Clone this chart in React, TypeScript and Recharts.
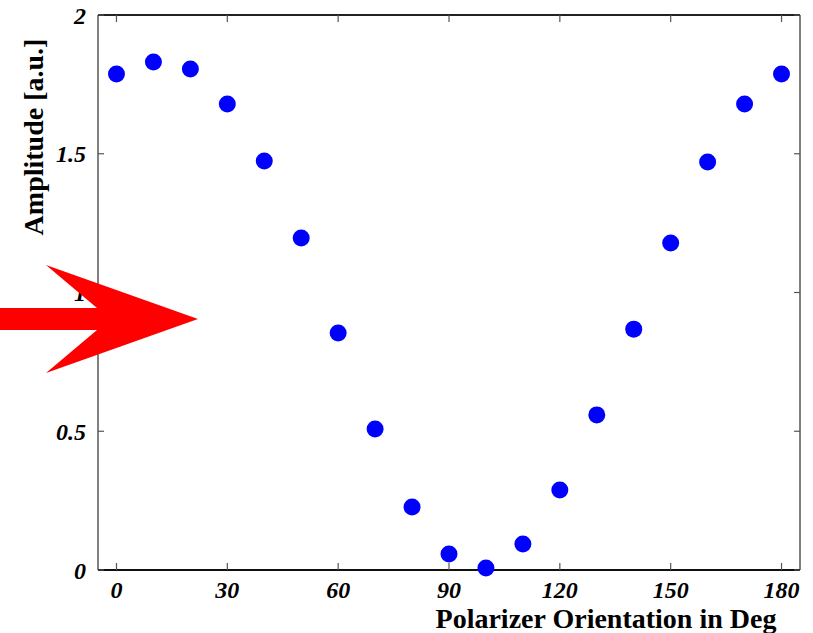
import React from "react";
import { ScatterChart, Scatter, XAxis, YAxis, Label } from "recharts";

const angles = [0, 10, 20, 30, 40, 50, 60, 70, 80, 90, 100, 110, 120, 130, 140, 150, 160, 170, 180];
const amplitudes = [
  1.787, 1.831, 1.805, 1.679, 1.474, 1.196, 0.854, 0.508, 0.227, 0.058, 0.007, 0.094, 0.288, 0.559, 0.868,
  1.178, 1.47, 1.679, 1.787,
];
const xTicks = [0, 30, 60, 90, 120, 150, 180];
const yTicks = [0, 0.5, 1, 1.5, 2];

const points = angles.map((a, i) => ({ angle: a, amp: amplitudes[i] }));

const serif = "'Liberation Serif', 'Times New Roman', serif";

const tickFont = {
  fontFamily: serif,
  fontWeight: "bold" as const,
  fontStyle: "italic" as const,
  fontSize: 24,
  fill: "#000",
};

const titleFont = {
  fontFamily: serif,
  fontWeight: "bold" as const,
  fontSize: 28,
  fill: "#000",
};

const Dot = (props: any) => <circle cx={props.cx} cy={props.cy} r={8.5} fill="#0000ff" />;

// ticks point into the plot, labels sit outside
const BottomTick = (props: any) => {
  const { x, y, payload } = props;
  const axisY = y - 12;
  return (
    <g>
      <line x1={x} y1={axisY} x2={x} y2={axisY - 7} stroke="#555" strokeWidth={1.2} />
      <text x={x} y={y - 1} dy="0.71em" textAnchor="middle" {...tickFont}>
        {payload.value}
      </text>
    </g>
  );
};

const TopTick = (props: any) => {
  const { x, y } = props;
  const axisY = y + 12;
  return <line x1={x} y1={axisY} x2={x} y2={axisY + 7} stroke="#555" strokeWidth={1.2} />;
};

const LeftTick = (props: any) => {
  const { x, y, payload } = props;
  const axisX = x + 12;
  return (
    <g>
      <line x1={axisX} y1={y} x2={axisX + 6} y2={y} stroke="#555" strokeWidth={1.2} />
      <text x={x} y={y} dy="0.355em" textAnchor="end" {...tickFont}>
        {payload.value}
      </text>
    </g>
  );
};

const RightTick = (props: any) => {
  const { x, y } = props;
  const axisX = x - 12;
  return <line x1={axisX} y1={y} x2={axisX - 6} y2={y} stroke="#555" strokeWidth={1.2} />;
};

const App: React.FC = () => {
  return (
    <div style={{ position: "absolute", left: 0, top: 0, width: 813, height: 633, background: "#fff" }}>
      <ScatterChart width={813} height={633} margin={{ top: 14, right: 12, left: 38, bottom: 33 }}>
        <XAxis
          xAxisId="top"
          orientation="top"
          type="number"
          dataKey="angle"
          domain={[-5, 185]}
          ticks={xTicks}
          height={1}
          tickSize={0}
          tickMargin={12}
          tick={TopTick}
          tickLine={false}
          axisLine={{ stroke: "#222", strokeWidth: 2 }}
        />
        <YAxis
          yAxisId="right"
          orientation="right"
          type="number"
          dataKey="amp"
          domain={[0, 2]}
          ticks={yTicks}
          width={1}
          tickSize={0}
          tickMargin={12}
          tick={RightTick}
          tickLine={false}
          axisLine={{ stroke: "#000", strokeWidth: 1 }}
        />
        <XAxis
          type="number"
          dataKey="angle"
          domain={[-5, 185]}
          ticks={xTicks}
          height={30}
          tickSize={0}
          tickMargin={12}
          tick={BottomTick}
          tickLine={false}
          axisLine={{ stroke: "#111", strokeWidth: 2 }}
        >
          <Label
            value="Polarizer Orientation in Deg"
            content={() => (
              <text x={606} y={628} textAnchor="middle" {...titleFont}>
                Polarizer Orientation in Deg
              </text>
            )}
          />
        </XAxis>
        <YAxis
          type="number"
          dataKey="amp"
          domain={[0, 2]}
          ticks={yTicks}
          width={60}
          tickSize={0}
          tickMargin={12}
          tick={LeftTick}
          tickLine={false}
          axisLine={{ stroke: "#000", strokeWidth: 1 }}
        >
          <Label
            value="Amplitude [a.u.]"
            content={() => (
              <text x={43} y={137} textAnchor="middle" transform="rotate(-90 43 137)" {...titleFont}>
                Amplitude [a.u.]
              </text>
            )}
          />
        </YAxis>
        <Scatter data={points} shape={Dot} isAnimationActive={false} />
        <Scatter
          data={points}
          xAxisId="top"
          yAxisId="right"
          shape={() => <g />}
          isAnimationActive={false}
        />
      </ScatterChart>
      <svg width={813} height={633} style={{ position: "absolute", left: 0, top: 0, pointerEvents: "none" }}>
        <polygon points="0,308 97,308 46,265 198,319 46,373 97,330 0,330" fill="#ff0000" />
      </svg>
    </div>
  );
};

export default App;
